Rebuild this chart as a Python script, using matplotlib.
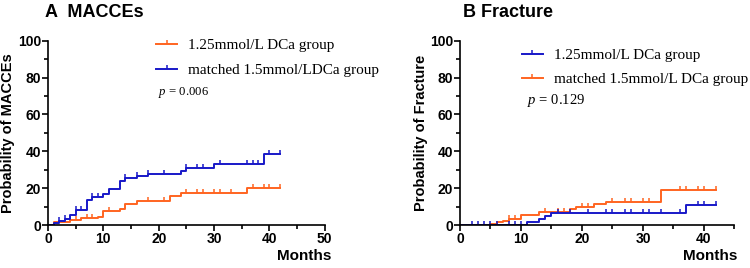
import numpy as np
import matplotlib
matplotlib.use('Agg')
import matplotlib.pyplot as plt
from matplotlib.ticker import MultipleLocator

plt.rcParams['font.family'] = 'Liberation Sans'
plt.rcParams['mathtext.fontset'] = 'custom'
plt.rcParams['mathtext.it'] = 'Liberation Serif:italic'
plt.rcParams['mathtext.rm'] = 'Liberation Serif'

ORANGE = '#FF6420'
BLUE = '#1818C8'

# panel A: MACCEs
a_low_t = [0, 1, 4, 6, 9, 10, 13, 14, 16, 22, 24, 36]
a_low_y = [0, 1.8, 2.7, 3.6, 4.6, 7.5, 8.8, 11.5, 13.3, 15.6, 17.6, 20.3]
a_low_cens = [5, 7, 8, 11, 18, 21, 25, 27, 28, 30, 31, 33, 37, 39, 40, 42]
a_high_t = [0, 1, 2, 3, 4, 5, 7, 8, 10, 11, 13, 14, 16, 18, 24, 25, 30, 39]
a_high_y = [0, 1.0, 2.3, 3.3, 5.6, 8.3, 13.6, 15.0, 17.0, 19.6, 24.0, 25.3, 26.6, 27.6, 29.3, 31.0, 33.3, 38.6]
a_high_cens = [2, 3, 5, 6, 8, 9, 14, 16, 18, 21, 25, 27, 28, 31, 36, 37, 38, 40, 42]

# panel B: Fracture
b_low_t = [0, 11, 13, 14, 15, 37]
b_low_y = [0, 1.8, 3.3, 5.0, 6.4, 10.8]
b_low_cens = [2, 3, 4, 5, 6, 8, 9, 10, 16, 18, 21, 24, 25, 27, 28, 30, 31, 33, 36, 39, 40, 42]
b_high_t = [0, 5, 6, 7, 8, 10, 13, 18, 19, 22, 24, 33]
b_high_y = [0, 0.5, 1.5, 2.5, 3.5, 5.7, 7.0, 8.5, 9.8, 11.3, 12.8, 19.3]
b_high_cens = [8, 9, 14, 16, 17, 20, 21, 25, 27, 28, 30, 31, 36, 37, 39, 40, 42]

t_end = 42


def km(ax, t, y, cens, color, label):
    tt = list(t) + [t_end]
    yy = list(y) + [y[-1]]
    ax.step(tt, yy, where='post', color=color, lw=1.4)
    cy = [y[np.searchsorted(t, c, side='right') - 1] for c in cens]
    ax.plot(cens, cy, ls='none', marker=2, ms=3.2, mew=1.1, color=color)
    return ax.plot([], [], color=color, lw=1.4, marker=2, ms=3.2, mew=1.1, label=label)[0]


def style(ax, xmax, ylabel, months_x):
    ax.set_xlim(0, xmax)
    ax.set_ylim(0, 100)
    ax.xaxis.set_major_locator(MultipleLocator(10))
    ax.xaxis.set_minor_locator(MultipleLocator(5))
    ax.yaxis.set_major_locator(MultipleLocator(20))
    ax.yaxis.set_minor_locator(MultipleLocator(10))
    for s in ['top', 'right']:
        ax.spines[s].set_visible(False)
    for s in ['left', 'bottom']:
        ax.spines[s].set_linewidth(1.2)
    ax.tick_params(which='major', length=4, width=1.2, labelsize=10, pad=1)
    ax.tick_params(which='minor', length=3, width=1.2)
    for lab in ax.get_xticklabels() + ax.get_yticklabels():
        lab.set_fontweight('bold')
    ax.set_ylabel(ylabel, fontsize=10.5, fontweight='bold')
    ax.yaxis.set_label_coords(-0.118, 0.5)
    ax.text(months_x, -0.165, 'Months', transform=ax.transAxes, ha='right', va='center',
            fontsize=11, fontweight='bold')


fig = plt.figure(figsize=(7.5, 2.68), dpi=100)
axA = fig.add_axes([0.064, 0.160, 0.369, 0.688])
axB = fig.add_axes([0.6133, 0.160, 0.366, 0.688])

hA1 = km(axA, a_low_t, a_low_y, a_low_cens, ORANGE, '1.25mmol/L DCa group')
hA2 = km(axA, a_high_t, a_high_y, a_high_cens, BLUE, 'matched 1.5mmol/LDCa group')
style(axA, 50, 'Probability of MACCEs', 1.025)
axA.legend(handles=[hA1, hA2], loc='upper left', bbox_to_anchor=(0.39, 1.012),
           frameon=False, prop={'family': 'Liberation Serif', 'size': 11},
           handlelength=1.4, handletextpad=0.7, labelspacing=0.75,
           borderpad=0, borderaxespad=0)
axA.text(0.397, 0.72, r'$p$ = 0.006', transform=axA.transAxes, ha='left', va='center',
         fontsize=9.2, family='Liberation Serif')

hB2 = km(axB, b_high_t, b_high_y, b_high_cens, ORANGE, 'matched 1.5mmol/L DCa group')
hB1 = km(axB, b_low_t, b_low_y, b_low_cens, BLUE, '1.25mmol/L DCa group')
style(axB, 45, 'Probability of Fracture', 1.009)
axB.legend(handles=[hB1, hB2], loc='upper left', bbox_to_anchor=(0.225, 0.957),
           frameon=False, prop={'family': 'Liberation Serif', 'size': 11},
           handlelength=1.4, handletextpad=0.7, labelspacing=0.65,
           borderpad=0, borderaxespad=0)
axB.text(0.244, 0.678, r'$p$ = 0.129', transform=axB.transAxes, ha='left', va='center',
         fontsize=10.5, family='Liberation Serif')

fig.text(0.06, 0.955, 'A  MACCEs', ha='left', va='center', fontsize=13, fontweight='bold')
fig.text(0.617, 0.955, 'B Fracture', ha='left', va='center', fontsize=13, fontweight='bold')

fig.savefig('out.png', dpi=100)
